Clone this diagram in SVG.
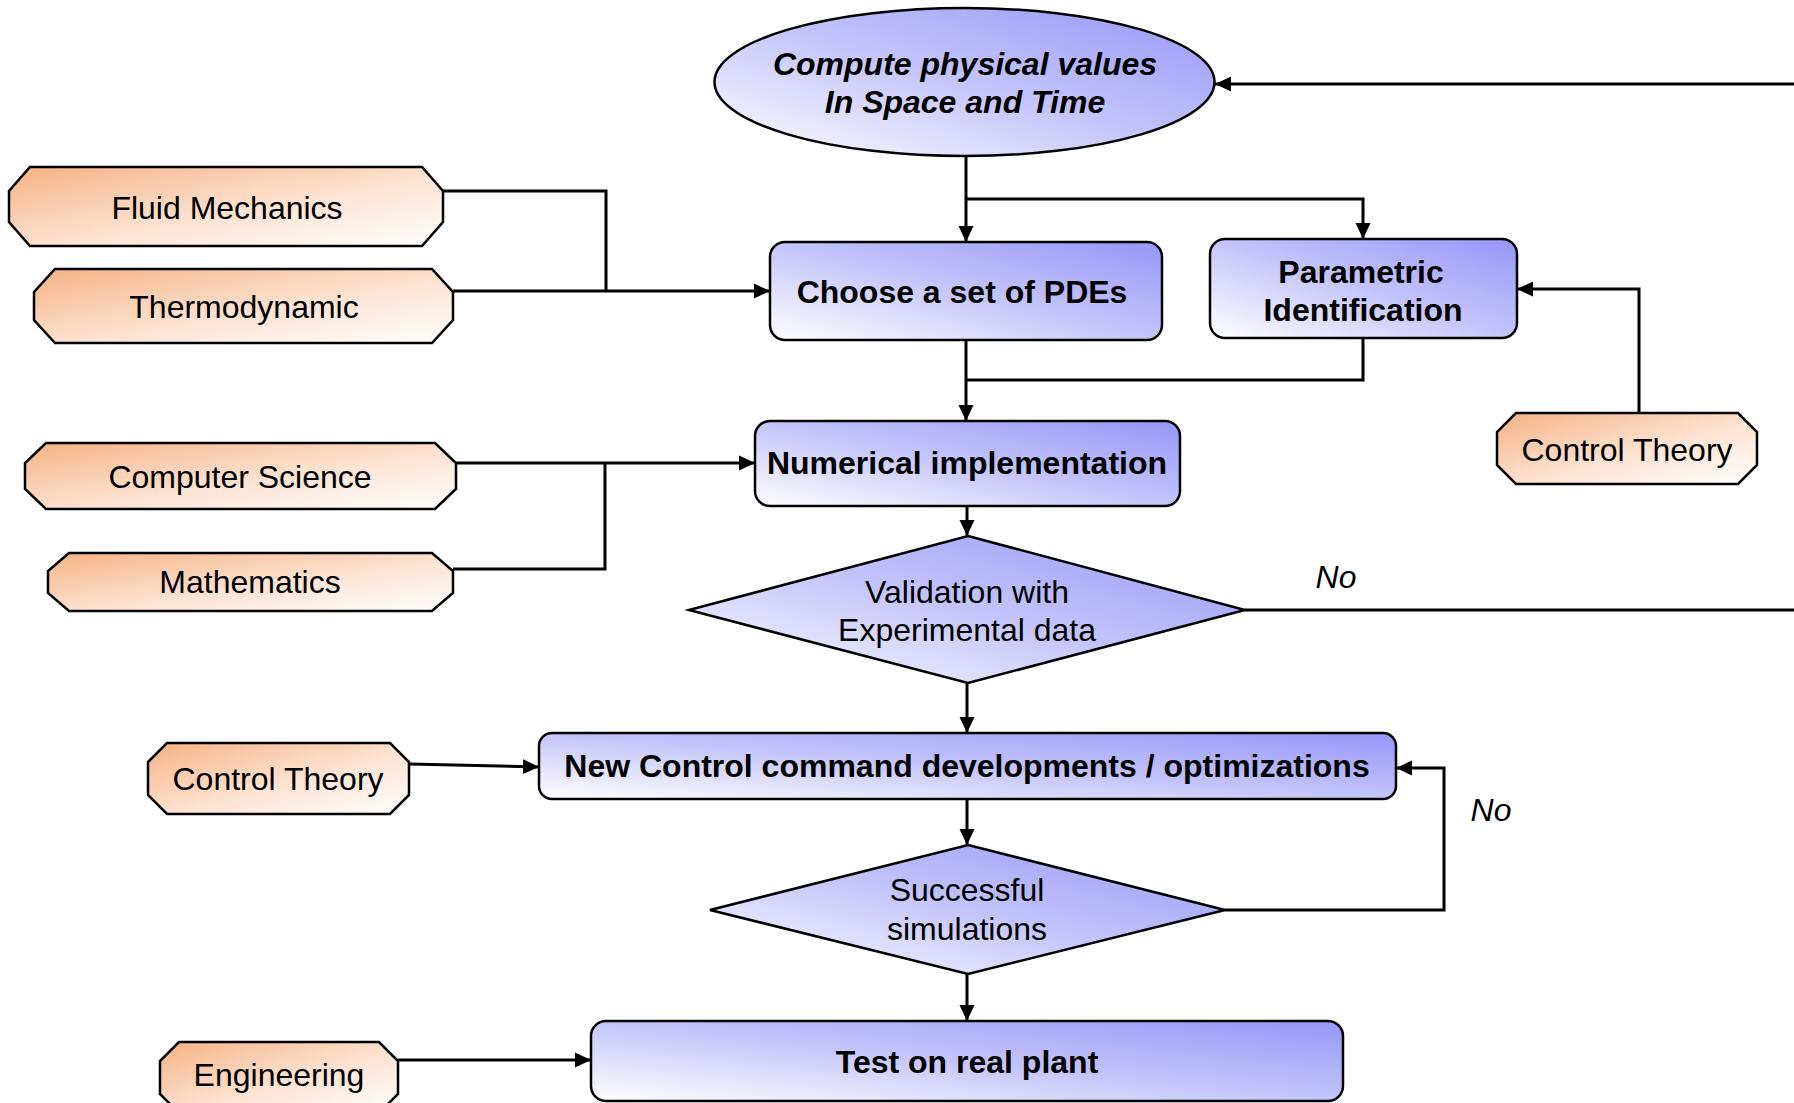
<svg xmlns="http://www.w3.org/2000/svg" width="1794" height="1103" viewBox="0 0 1794 1103">
<defs>
<linearGradient id="gBlue" x1="0" y1="1" x2="1" y2="0">
<stop offset="0" stop-color="#ffffff"/>
<stop offset="0.5" stop-color="#c4c4fb"/>
<stop offset="1" stop-color="#9696f8"/>
</linearGradient>
<linearGradient id="gOrange" x1="0" y1="0" x2="1" y2="1">
<stop offset="0" stop-color="#f5b284"/>
<stop offset="0.55" stop-color="#fde3d2"/>
<stop offset="1" stop-color="#ffffff"/>
</linearGradient>
<marker id="arr" markerUnits="userSpaceOnUse" markerWidth="17" markerHeight="17" viewBox="0 0 17 17" refX="16" refY="8.5" orient="auto">
<path d="M0,1 L16,8.5 L0,16 Z" fill="#000"/>
</marker>
<style>
.blue{fill:url(#gBlue);stroke:#000;stroke-width:2.5}
.org{fill:url(#gOrange);stroke:#000;stroke-width:2.5}
.t{font-family:"Liberation Sans",Arial,sans-serif;font-size:32px;fill:#000;text-anchor:middle}
.b{font-weight:bold}
.i{font-style:italic}
.c{fill:none;stroke:#000;stroke-width:3}
.a{marker-end:url(#arr)}
</style>
</defs>
<rect width="1794" height="1103" fill="#fff"/>

<g id="connectors">
<path class="c a" d="M966,156 L966,242"/>
<path class="c a" d="M966,199 L1363,199 L1363,239"/>
<path class="c" d="M443,191 L606,191 L606,291"/>
<path class="c a" d="M453,291 L770,291"/>
<path class="c a" d="M966,340 L966,421"/>
<path class="c" d="M1363,338 L1363,380 L966,380"/>
<path class="c a" d="M1639,413 L1639,289 L1517,289"/>
<path class="c a" d="M456,463 L755,463"/>
<path class="c" d="M453,569 L605,569 L605,463"/>
<path class="c a" d="M967,506 L967,536"/>
<path class="c" d="M1245,610 L1794,610"/>
<path class="c a" d="M1794,84 L1215,84"/>
<path class="c a" d="M967,683 L967,733"/>
<path class="c a" d="M409,764 L539,767"/>
<path class="c a" d="M967,799 L967,845"/>
<path class="c a" d="M1225,910 L1444,910 L1444,768 L1396,768"/>
<path class="c a" d="M967,974 L967,1021"/>
<path class="c a" d="M398,1060 L591,1060"/>
<text class="t i" x="1336" y="588">No</text>
<text class="t i" x="1491" y="821">No</text>
</g>

<g id="compute">
<ellipse class="blue" cx="964.5" cy="82" rx="250" ry="74"/>
<text class="t b i" x="965" y="75">Compute physical values</text>
<text class="t b i" x="965" y="113">In Space and Time</text>
</g>

<g id="fluid">
<path class="org" d="M30,167 L422,167 L443,191 L443,222 L422,246 L30,246 L9,222 L9,191 Z"/>
<text class="t" x="227" y="219">Fluid Mechanics</text>
</g>

<g id="thermo">
<path class="org" d="M55,269 L432,269 L453,292 L453,320 L432,343 L55,343 L34,320 L34,292 Z"/>
<text class="t" x="244" y="318">Thermodynamic</text>
</g>

<g id="cs">
<path class="org" d="M46,443 L435,443 L456,463 L456,489 L435,509 L46,509 L25,489 L25,463 Z"/>
<text class="t" x="240" y="488">Computer Science</text>
</g>

<g id="math">
<path class="org" d="M69,553 L432,553 L453,571 L453,593 L432,611 L69,611 L48,593 L48,571 Z"/>
<text class="t" x="250" y="593">Mathematics</text>
</g>

<g id="ct-right">
<path class="org" d="M1516,413 L1738,413 L1757,432 L1757,465 L1738,484 L1516,484 L1497,465 L1497,432 Z"/>
<text class="t" x="1627" y="461">Control Theory</text>
</g>

<g id="ct-left">
<path class="org" d="M167,743 L390,743 L409,762 L409,795 L390,814 L167,814 L148,795 L148,762 Z"/>
<text class="t" x="278" y="790">Control Theory</text>
</g>

<g id="engineering">
<path class="org" d="M179,1042 L379,1042 L398,1061 L398,1094 L379,1113 L179,1113 L160,1094 L160,1061 Z"/>
<text class="t" x="279" y="1086">Engineering</text>
</g>

<g id="choose">
<rect class="blue" x="770" y="242" width="392" height="98" rx="15"/>
<text class="t b" x="962" y="303">Choose a set of PDEs</text>
</g>

<g id="param">
<rect class="blue" x="1210" y="239" width="307" height="99" rx="15"/>
<text class="t b" x="1361" y="283">Parametric</text>
<text class="t b" x="1363" y="321">Identification</text>
</g>

<g id="numerical">
<rect class="blue" x="755" y="421" width="425" height="85" rx="15"/>
<text class="t b" x="967" y="474">Numerical implementation</text>
</g>

<g id="validation">
<path class="blue" d="M968,536 L1245,610 L968,683 L689,610 Z"/>
<text class="t" x="967" y="603">Validation with</text>
<text class="t" x="967" y="641">Experimental data</text>
</g>

<g id="newcontrol">
<rect class="blue" x="539" y="733" width="857" height="66" rx="13"/>
<text class="t b" x="967" y="777">New Control command developments / optimizations</text>
</g>

<g id="successful">
<path class="blue" d="M968,845 L1225,910 L968,974 L710,910 Z"/>
<text class="t" x="967" y="901">Successful</text>
<text class="t" x="967" y="940">simulations</text>
</g>

<g id="test">
<rect class="blue" x="591" y="1021" width="752" height="80" rx="15"/>
<text class="t b" x="967" y="1073">Test on real plant</text>
</g>
</svg>
